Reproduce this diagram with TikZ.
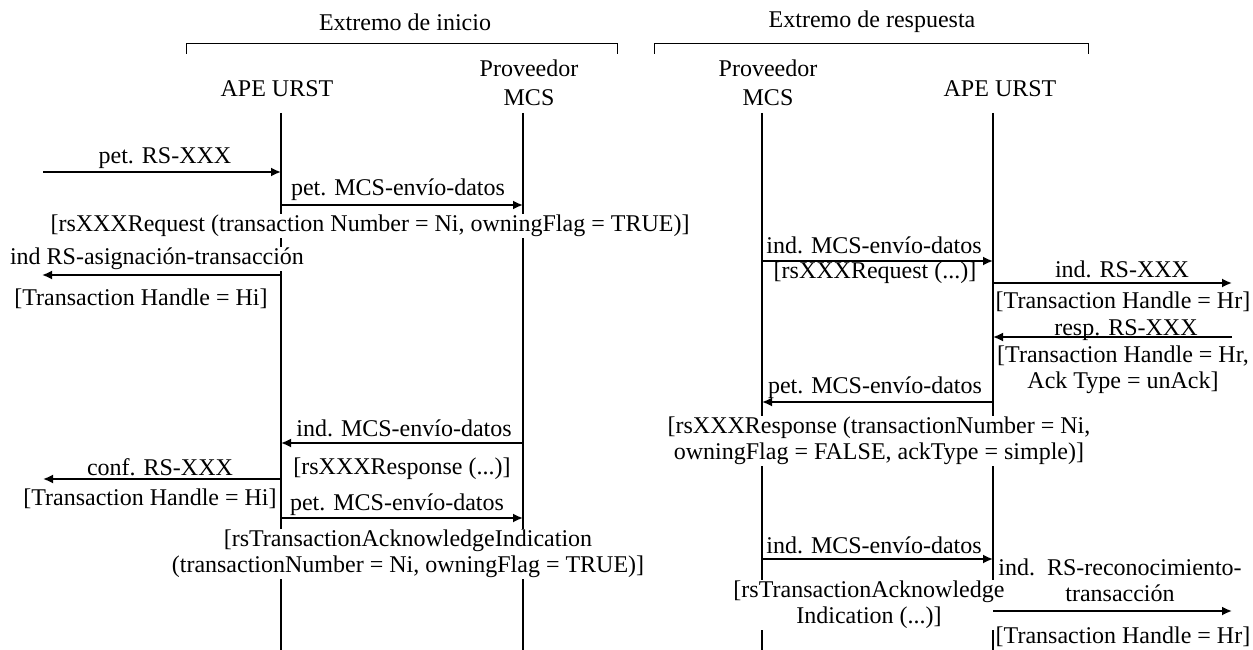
\documentclass[tikz,border=0pt]{standalone}
\usepackage{fontspec}
\setmainfont{Liberation Serif}
\usetikzlibrary{arrows.meta}
\begin{document}
\begin{tikzpicture}[x=1pt,y=-1pt,
  lifeline/.style={line width=1.8pt},
  msg/.style={line width=1.8pt,-{Latex[length=10pt,width=9pt]}},
  lbl/.style={font=\fontsize{24}{26}\selectfont,inner sep=1pt,fill=white,align=center},
  hdr/.style={font=\fontsize{24}{29}\selectfont,inner sep=1pt,align=center},
  bracket/.style={line width=1pt}]
\useasboundingbox (0,0) rectangle (1253,650);

% lifelines
\coordinate (L1) at (281,113); \coordinate (L1b) at (281,650);
\coordinate (L2) at (523,113); \coordinate (L2b) at (523,650);
\coordinate (L3) at (762,113); \coordinate (L3b) at (762,650);
\coordinate (L4) at (993,113); \coordinate (L4b) at (993,650);
\draw[lifeline] (L1) -- (L1b);
\draw[lifeline] (L2) -- (L2b);
\draw[lifeline] (L3) -- (L3b);
\draw[lifeline] (L4) -- (L4b);

% group brackets and headers
\node[hdr] (gi) at (405,22) {Extremo de inicio};
\node[hdr] (gr) at (872,22) {Extremo de respuesta};
\coordinate (bi1) at (186,54); \coordinate (bi2) at (617,54);
\coordinate (br1) at (654,54); \coordinate (br2) at (1088,54);
\draw[bracket] (bi1) -- ++(0,-10) -| (bi2);
\draw[bracket] (br1) -- ++(0,-10) -| (br2);
\node[hdr] (h1) at (277,89) {APE URST};
\node[hdr] (h2) at (529,83) {Proveedor\\MCS};
\node[hdr] (h3) at (768,83) {Proveedor\\MCS};
\node[hdr] (h4) at (1000,89) {APE URST};

% message heights and free ends
\coordinate (m1) at (43,172);
\coordinate (m2) at (0,205);
\coordinate (m3) at (42,275);
\coordinate (m4) at (0,261);
\coordinate (m5) at (1232,283);
\coordinate (m6) at (1232,337);
\coordinate (m7) at (0,402);
\coordinate (m8) at (0,443);
\coordinate (m9) at (43,479);
\coordinate (m10) at (0,518);
\coordinate (m11) at (0,559);
\coordinate (m12) at (1232,611);

% labels
\node[lbl] (t1) at (165,158) {pet. RS-XXX};
\node[lbl] (t2) at (398,190) {pet. MCS-envío-datos};
\node[lbl] (t3) at (370,226) {[rsXXXRequest (transaction Number = Ni, owningFlag = TRUE)]};
\node[lbl] (t4) at (157,259) {ind RS-asignación-transacción};
\node[lbl] (t5) at (141,299) {[Transaction Handle = Hi]};
\node[lbl] (t6) at (874,245) {ind. MCS-envío-datos};
\node[lbl] (t7) at (875,273) {[rsXXXRequest (...)]};
\node[lbl] (t8) at (1122,269) {ind. RS-XXX};
\node[lbl] (t9) at (1123,302) {[Transaction Handle = Hr]};
\node[lbl] (t10) at (1126,330) {resp. RS-XXX};
\node[lbl] (t11) at (1123,370) {[Transaction Handle = Hr,\\Ack Type = unAck]};
\node[lbl] (t12) at (875,388) {pet. MCS-envío-datos};
\node[lbl] (t13) at (879,441) {[rsXXXResponse (transactionNumber = Ni,\\owningFlag = FALSE, ackType = simple)]};
\node[lbl] (t14) at (404,428) {ind. MCS-envío-datos};
\node[lbl] (t15) at (402,469) {[rsXXXResponse (...)]};
\node[lbl] (t16) at (160,467) {conf. RS-XXX};
\node[lbl] (t17) at (150,499) {[Transaction Handle = Hi]};
\node[lbl] (t18) at (397,505) {pet. MCS-envío-datos};
\node[lbl] (t19) at (408,554) {[rsTransactionAcknowledgeIndication\\(transactionNumber = Ni, owningFlag = TRUE)]};
\node[lbl] (t20) at (874,545) {ind. MCS-envío-datos};
\node[lbl] (t21) at (1120,580) {ind.\ \ RS-reconocimiento-\\transacción};
\node[lbl] (t22) at (869,605) {[rsTransactionAcknowledge\\Indication (...)]};
\node[lbl] (t23) at (1123,637) {[Transaction Handle = Hr]};

% messages
\draw[msg] (m1) -- (m1 -| L1);
\draw[msg] (L1 |- m2) -- (L2 |- m2);
\draw[msg] (L1 |- m3) -- (m3);
\draw[msg] (L3 |- m4) -- (L4 |- m4);
\draw[msg] (L4 |- m5) -- (m5);
\draw[msg] (m6) -- (m6 -| L4);
\draw[msg] (L4 |- m7) -- (L3 |- m7);
\draw[msg] (L2 |- m8) -- (L1 |- m8);
\draw[msg] (L1 |- m9) -- (m9);
\draw[msg] (L1 |- m10) -- (L2 |- m10);
\draw[msg] (L3 |- m11) -- (L4 |- m11);
\draw[msg] (L4 |- m12) -- (m12);
\end{tikzpicture}
\end{document}
